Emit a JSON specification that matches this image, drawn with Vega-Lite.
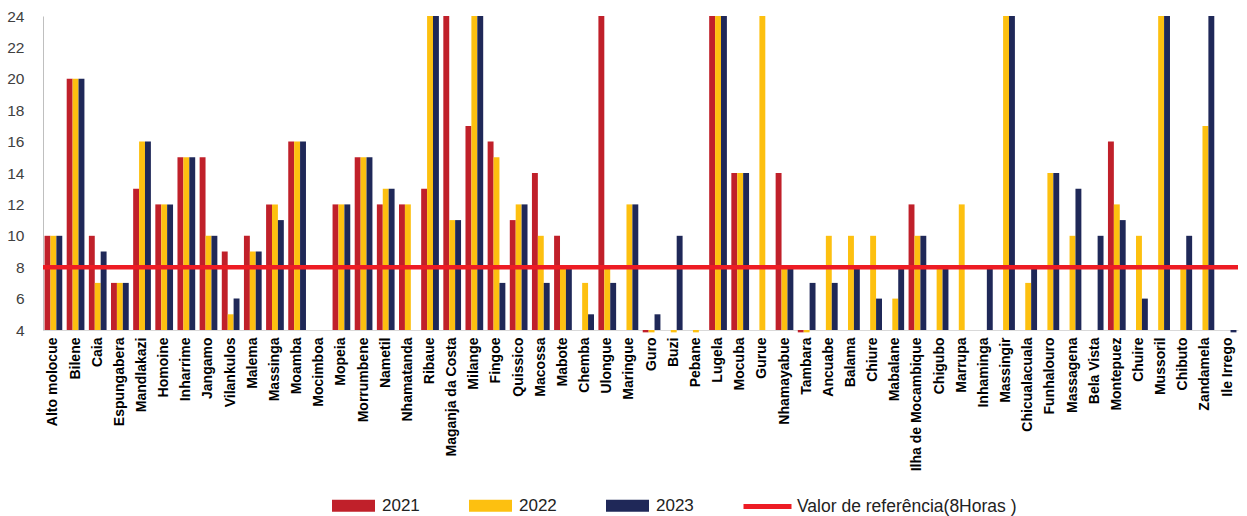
{
  "$schema": "https://vega.github.io/schema/vega-lite/v6.json",
  "width": 1195,
  "height": 314,
  "autosize": "none",
  "padding": {"left": 43, "top": 16, "right": 9, "bottom": 186},
  "config": {"view": {"stroke": null}, "font": "Liberation Sans", "axisY": {"labelOverlap": false}},
  "data": {"values": [
    {"local": "Alto molocue", "ano": "2021", "valor": 10}, {"local": "Alto molocue", "ano": "2022", "valor": 10}, {"local": "Alto molocue", "ano": "2023", "valor": 10},
    {"local": "Bilene", "ano": "2021", "valor": 20}, {"local": "Bilene", "ano": "2022", "valor": 20}, {"local": "Bilene", "ano": "2023", "valor": 20},
    {"local": "Caia", "ano": "2021", "valor": 10}, {"local": "Caia", "ano": "2022", "valor": 7}, {"local": "Caia", "ano": "2023", "valor": 9},
    {"local": "Espungabera", "ano": "2021", "valor": 7}, {"local": "Espungabera", "ano": "2022", "valor": 7}, {"local": "Espungabera", "ano": "2023", "valor": 7},
    {"local": "Mandlakazi", "ano": "2021", "valor": 13}, {"local": "Mandlakazi", "ano": "2022", "valor": 16}, {"local": "Mandlakazi", "ano": "2023", "valor": 16},
    {"local": "Homoine", "ano": "2021", "valor": 12}, {"local": "Homoine", "ano": "2022", "valor": 12}, {"local": "Homoine", "ano": "2023", "valor": 12},
    {"local": "Inharrime", "ano": "2021", "valor": 15}, {"local": "Inharrime", "ano": "2022", "valor": 15}, {"local": "Inharrime", "ano": "2023", "valor": 15},
    {"local": "Jangamo", "ano": "2021", "valor": 15}, {"local": "Jangamo", "ano": "2022", "valor": 10}, {"local": "Jangamo", "ano": "2023", "valor": 10},
    {"local": "Vilankulos", "ano": "2021", "valor": 9}, {"local": "Vilankulos", "ano": "2022", "valor": 5}, {"local": "Vilankulos", "ano": "2023", "valor": 6},
    {"local": "Malema", "ano": "2021", "valor": 10}, {"local": "Malema", "ano": "2022", "valor": 9}, {"local": "Malema", "ano": "2023", "valor": 9},
    {"local": "Massinga", "ano": "2021", "valor": 12}, {"local": "Massinga", "ano": "2022", "valor": 12}, {"local": "Massinga", "ano": "2023", "valor": 11},
    {"local": "Moamba", "ano": "2021", "valor": 16}, {"local": "Moamba", "ano": "2022", "valor": 16}, {"local": "Moamba", "ano": "2023", "valor": 16},
    {"local": "Mopeia", "ano": "2021", "valor": 12}, {"local": "Mopeia", "ano": "2022", "valor": 12}, {"local": "Mopeia", "ano": "2023", "valor": 12},
    {"local": "Morrumbene", "ano": "2021", "valor": 15}, {"local": "Morrumbene", "ano": "2022", "valor": 15}, {"local": "Morrumbene", "ano": "2023", "valor": 15},
    {"local": "Nametil", "ano": "2021", "valor": 12}, {"local": "Nametil", "ano": "2022", "valor": 13}, {"local": "Nametil", "ano": "2023", "valor": 13},
    {"local": "Nhamatanda", "ano": "2021", "valor": 12}, {"local": "Nhamatanda", "ano": "2022", "valor": 12},
    {"local": "Ribaue", "ano": "2021", "valor": 13}, {"local": "Ribaue", "ano": "2022", "valor": 24}, {"local": "Ribaue", "ano": "2023", "valor": 24},
    {"local": "Maganja da Costa", "ano": "2021", "valor": 24}, {"local": "Maganja da Costa", "ano": "2022", "valor": 11}, {"local": "Maganja da Costa", "ano": "2023", "valor": 11},
    {"local": "Milange", "ano": "2021", "valor": 17}, {"local": "Milange", "ano": "2022", "valor": 24}, {"local": "Milange", "ano": "2023", "valor": 24},
    {"local": "Fingoe", "ano": "2021", "valor": 16}, {"local": "Fingoe", "ano": "2022", "valor": 15}, {"local": "Fingoe", "ano": "2023", "valor": 7},
    {"local": "Quissico", "ano": "2021", "valor": 11}, {"local": "Quissico", "ano": "2022", "valor": 12}, {"local": "Quissico", "ano": "2023", "valor": 12},
    {"local": "Macossa", "ano": "2021", "valor": 14}, {"local": "Macossa", "ano": "2022", "valor": 10}, {"local": "Macossa", "ano": "2023", "valor": 7},
    {"local": "Mabote", "ano": "2021", "valor": 10}, {"local": "Mabote", "ano": "2022", "valor": 8}, {"local": "Mabote", "ano": "2023", "valor": 8},
    {"local": "Chemba", "ano": "2022", "valor": 7}, {"local": "Chemba", "ano": "2023", "valor": 5},
    {"local": "Ulongue", "ano": "2021", "valor": 24}, {"local": "Ulongue", "ano": "2022", "valor": 8}, {"local": "Ulongue", "ano": "2023", "valor": 7},
    {"local": "Maringue", "ano": "2022", "valor": 12}, {"local": "Maringue", "ano": "2023", "valor": 12},
    {"local": "Guro", "ano": "2021", "valor": 3.85}, {"local": "Guro", "ano": "2022", "valor": 3.85}, {"local": "Guro", "ano": "2023", "valor": 5},
    {"local": "Buzi", "ano": "2022", "valor": 3.85}, {"local": "Buzi", "ano": "2023", "valor": 10},
    {"local": "Pebane", "ano": "2022", "valor": 3.85},
    {"local": "Lugela", "ano": "2021", "valor": 24}, {"local": "Lugela", "ano": "2022", "valor": 24}, {"local": "Lugela", "ano": "2023", "valor": 24},
    {"local": "Mocuba", "ano": "2021", "valor": 14}, {"local": "Mocuba", "ano": "2022", "valor": 14}, {"local": "Mocuba", "ano": "2023", "valor": 14},
    {"local": "Gurue", "ano": "2022", "valor": 24},
    {"local": "Nhamayabue", "ano": "2021", "valor": 14}, {"local": "Nhamayabue", "ano": "2022", "valor": 8}, {"local": "Nhamayabue", "ano": "2023", "valor": 8},
    {"local": "Tambara", "ano": "2021", "valor": 3.85}, {"local": "Tambara", "ano": "2022", "valor": 3.85}, {"local": "Tambara", "ano": "2023", "valor": 7},
    {"local": "Ancuabe", "ano": "2022", "valor": 10}, {"local": "Ancuabe", "ano": "2023", "valor": 7},
    {"local": "Balama", "ano": "2022", "valor": 10}, {"local": "Balama", "ano": "2023", "valor": 8},
    {"local": "Chiure", "ano": "2022", "valor": 10}, {"local": "Chiure", "ano": "2023", "valor": 6},
    {"local": "Mabalane", "ano": "2022", "valor": 6}, {"local": "Mabalane", "ano": "2023", "valor": 8},
    {"local": "Ilha de Mocambique", "ano": "2021", "valor": 12}, {"local": "Ilha de Mocambique", "ano": "2022", "valor": 10}, {"local": "Ilha de Mocambique", "ano": "2023", "valor": 10},
    {"local": "Chigubo", "ano": "2022", "valor": 8}, {"local": "Chigubo", "ano": "2023", "valor": 8},
    {"local": "Marrupa", "ano": "2022", "valor": 12},
    {"local": "Inhaminga", "ano": "2023", "valor": 8},
    {"local": "Massingir", "ano": "2022", "valor": 24}, {"local": "Massingir", "ano": "2023", "valor": 24},
    {"local": "Chicualacuala", "ano": "2022", "valor": 7}, {"local": "Chicualacuala", "ano": "2023", "valor": 8},
    {"local": "Funhalouro", "ano": "2022", "valor": 14}, {"local": "Funhalouro", "ano": "2023", "valor": 14},
    {"local": "Massagena", "ano": "2022", "valor": 10}, {"local": "Massagena", "ano": "2023", "valor": 13},
    {"local": "Bela Vista", "ano": "2023", "valor": 10},
    {"local": "Montepuez", "ano": "2021", "valor": 16}, {"local": "Montepuez", "ano": "2022", "valor": 12}, {"local": "Montepuez", "ano": "2023", "valor": 11},
    {"local": "Chuire", "ano": "2022", "valor": 10}, {"local": "Chuire", "ano": "2023", "valor": 6},
    {"local": "Mussoril", "ano": "2022", "valor": 24}, {"local": "Mussoril", "ano": "2023", "valor": 24},
    {"local": "Chibuto", "ano": "2022", "valor": 8}, {"local": "Chibuto", "ano": "2023", "valor": 10},
    {"local": "Zandamela", "ano": "2022", "valor": 17}, {"local": "Zandamela", "ano": "2023", "valor": 24},
    {"local": "Ile Irrego", "ano": "2023", "valor": 3.85}
  ]},
  "layer": [
    {
      "mark": {"type": "bar"},
      "encoding": {
        "x": {
          "field": "local", "type": "nominal", "sort": null,
          "scale": {
            "domain": ["Alto molocue", "Bilene", "Caia", "Espungabera", "Mandlakazi", "Homoine", "Inharrime", "Jangamo", "Vilankulos", "Malema", "Massinga", "Moamba", "Mocimboa", "Mopeia", "Morrumbene", "Nametil", "Nhamatanda", "Ribaue", "Maganja da Costa", "Milange", "Fingoe", "Quissico", "Macossa", "Mabote", "Chemba", "Ulongue", "Maringue", "Guro", "Buzi", "Pebane", "Lugela", "Mocuba", "Gurue", "Nhamayabue", "Tambara", "Ancuabe", "Balama", "Chiure", "Mabalane", "Ilha de Mocambique", "Chigubo", "Marrupa", "Inhaminga", "Massingir", "Chicualacuala", "Funhalouro", "Massagena", "Bela Vista", "Montepuez", "Chuire", "Mussoril", "Chibuto", "Zandamela", "Ile Irrego"],
            "paddingInner": 0.2, "paddingOuter": 0.07
          },
          "axis": {
            "title": null, "labelAngle": -90, "labelFontWeight": "bold", "labelFontSize": 14,
            "labelColor": "#000000", "ticks": false, "labelPadding": 7, "domainColor": "#d9d9d9",
            "domainWidth": 1, "labelLimit": 300, "labelOverlap": false
          }
        },
        "xOffset": {"field": "ano", "type": "nominal", "scale": {"domain": ["2021", "2022", "2023"], "padding": 0}},
        "y": {
          "field": "valor", "type": "quantitative",
          "scale": {"domain": [4, 24], "nice": false, "zero": false},
          "axis": {
            "title": null, "values": [4, 6, 8, 10, 12, 14, 16, 18, 20, 22, 24], "ticks": false, "grid": false,
            "labelFontSize": 15.5, "labelColor": "#404040", "labelPadding": 19, "domainColor": "#bfbfbf",
            "labelOverlap": false, "labelBound": false
          }
        },
        "y2": {"datum": 4},
        "color": {
          "field": "ano", "type": "nominal",
          "scale": {"domain": ["2021", "2022", "2023"], "range": ["#C0202A", "#FDC010", "#1F2858"]},
          "legend": {
            "title": null, "orient": "none", "direction": "horizontal", "legendX": 289, "legendY": 468,
            "symbolType": "M-1,-0.28H1V0.28H-1Z", "symbolSize": 1849, "symbolStrokeWidth": 0,
            "labelFontSize": 17, "labelColor": "#222222", "labelOffset": 7, "columnPadding": 49, "padding": 0
          }
        }
      }
    },
    {
      "data": {"values": [{"ref": 8, "serie": "Valor de referência(8Horas )"}]},
      "mark": {"type": "rule", "strokeWidth": 4.5},
      "encoding": {
        "y": {
          "field": "ref", "type": "quantitative",
          "axis": {
            "title": null, "values": [4, 6, 8, 10, 12, 14, 16, 18, 20, 22, 24], "ticks": false, "grid": false,
            "labelFontSize": 15.5, "labelColor": "#404040", "labelPadding": 19, "domainColor": "#bfbfbf",
            "labelOverlap": false, "labelBound": false
          }
        },
        "stroke": {
          "field": "serie", "type": "nominal",
          "scale": {"range": ["#ED1C24"]},
          "legend": {
            "title": null, "orient": "none", "direction": "horizontal", "legendX": 698, "legendY": 464,
            "symbolType": "stroke", "symbolSize": 2304, "symbolStrokeWidth": 5, "labelLimit": 400,
            "labelFontSize": 17.5, "labelColor": "#222222", "labelOffset": 3, "padding": 0
          }
        }
      }
    }
  ]
}
